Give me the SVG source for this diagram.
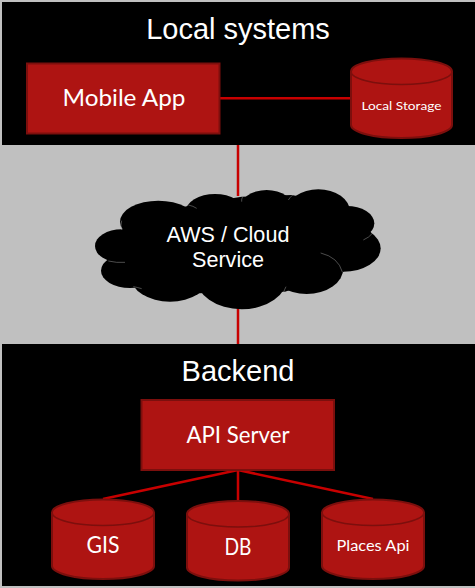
<svg xmlns="http://www.w3.org/2000/svg" width="475" height="588" viewBox="0 0 475 588">
<style>
.box{fill:#ae1412;stroke:#7c0f0d;stroke-width:2}
.cyl{fill:#ae1412;stroke:#7c0f0d;stroke-width:2}
.lid{fill:none;stroke:#7c0f0d;stroke-width:1.5}
.c{stroke:#c80000;stroke-width:2.500;fill:none}
.h{font-family:"Liberation Sans",Arial,sans-serif;fill:#fff;text-anchor:middle}
.t{font-family:Lato,"Open Sans",sans-serif;fill:#fff;text-anchor:middle}
.seam{fill:none;stroke:#9a9a9a;stroke-width:1.5}
</style>
<rect width="475" height="588" fill="#c0c0c0"/>
<rect id="panel-top" x="2" y="2" width="473" height="143" fill="#000"/>
<rect id="panel-bottom" x="2" y="344" width="473" height="242" fill="#000"/>
<g id="connectors">
<line class="c" x1="220" y1="98.300" x2="351" y2="98.300"/>
<line class="c" x1="238" y1="145" x2="238" y2="196"/>
<line class="c" x1="238" y1="305" x2="238" y2="344"/>
<line class="c" x1="238" y1="470" x2="103" y2="499"/>
<line class="c" x1="238" y1="470" x2="238" y2="501"/>
<line class="c" x1="238" y1="470" x2="373" y2="499"/>
</g>
<g id="title-local"><text class="h" x="238" y="39" font-size="29">Local systems</text></g>
<g id="mobile-app"><rect class="box" x="27" y="63.500" width="192.500" height="70"/><text class="t" x="124" y="106" font-size="24" textLength="123" lengthAdjust="spacingAndGlyphs">Mobile App</text></g>
<g id="local-storage"><path class="cyl" d="M351 71.500A50.500 13 0 0 1 452 71.500V125A50.500 13 0 0 1 351 125Z"/><path class="lid" d="M351 71.500A50.500 13 0 0 0 452 71.500"/><text class="t" x="401.500" y="110" font-size="12" textLength="80" lengthAdjust="spacingAndGlyphs">Local Storage</text></g>
<g id="cloud">
<g transform="translate(80 180) scale(.33333)" fill="#000">
<ellipse cx="235" cy="125" rx="115" ry="63"/>
<ellipse cx="405" cy="95" rx="88" ry="53"/>
<ellipse cx="560" cy="90" rx="83" ry="60"/>
<ellipse cx="715" cy="95" rx="95" ry="67"/>
<ellipse cx="800" cy="130" rx="83" ry="52"/>
<ellipse cx="790" cy="205" rx="112" ry="70"/>
<ellipse cx="680" cy="265" rx="110" ry="77"/>
<ellipse cx="485" cy="290" rx="138" ry="98"/>
<ellipse cx="270" cy="290" rx="118" ry="75"/>
<ellipse cx="150" cy="272" rx="87" ry="52"/>
<ellipse cx="125" cy="198" rx="80" ry="50"/>
<polygon points="125,150 330,75 485,50 635,45 805,78 875,160 790,275 615,335 355,340 165,320 85,245"/>
<path class="seam" d="M125 150Q121 135 125 122"/>
<path class="seam" d="M325 75Q340 78 350 85"/>
<path class="seam" d="M85 243Q110 249 135 247"/>
<path class="seam" d="M160 320Q172 322 185 326"/>
<path class="seam" d="M722 219Q775 232 787 276"/>
<path class="seam" d="M850 180Q868 172 877 160"/>
<path class="seam" d="M625 60Q630 52 638 45"/>
<path class="seam" d="M485 65Q484 57 488 50"/>
<path class="seam" d="M611 336Q614 328 618 320"/>
</g>
<text class="h" x="228" y="241.500" font-size="21.600">AWS / Cloud</text>
<text class="h" x="228" y="267" font-size="21.600">Service</text>
</g>
<g id="title-backend"><text class="h" x="238" y="381" font-size="29">Backend</text></g>
<g id="api-server"><rect class="box" x="141.500" y="400" width="192.500" height="70"/><text class="t" x="238" y="443" font-size="24" textLength="103" lengthAdjust="spacingAndGlyphs">API Server</text></g>
<g id="gis"><path class="cyl" d="M52 512.500A51 13 0 0 1 154 512.500V566A51 13 0 0 1 52 566Z"/><path class="lid" d="M52 512.500A51 13 0 0 0 154 512.500"/><text class="t" x="103" y="553" font-size="23" textLength="33" lengthAdjust="spacingAndGlyphs">GIS</text></g>
<g id="db"><path class="cyl" d="M187 514A51 13 0 0 1 289 514V567.500A51 13 0 0 1 187 567.500Z"/><path class="lid" d="M187 514A51 13 0 0 0 289 514"/><text class="t" x="238" y="555" font-size="23" textLength="27" lengthAdjust="spacingAndGlyphs">DB</text></g>
<g id="places-api"><path class="cyl" d="M322 512.500A51 13 0 0 1 424 512.500V566A51 13 0 0 1 322 566Z"/><path class="lid" d="M322 512.500A51 13 0 0 0 424 512.500"/><text class="t" x="373" y="551" font-size="14.500" textLength="73" lengthAdjust="spacingAndGlyphs">Places Api</text></g>
</svg>
